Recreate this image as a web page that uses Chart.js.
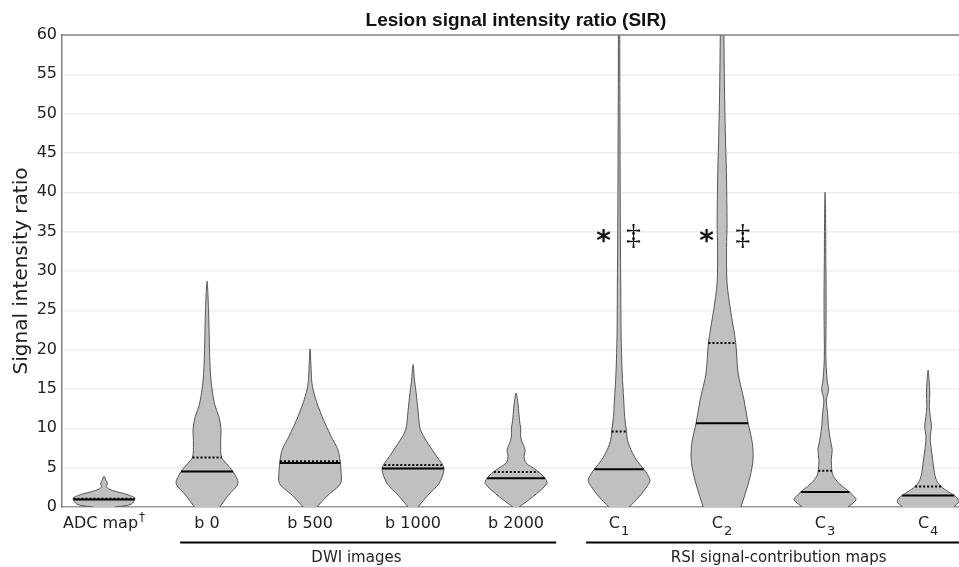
<!DOCTYPE html>
<html>
<head>
<meta charset="utf-8">
<script src="https://cdn.jsdelivr.net/npm/chart.js@4.4.1/dist/chart.umd.min.js"></script>
<style>
  html, body { margin: 0; padding: 0; background: #fff; }
</style>
</head>
<body>
<canvas id="myChart" width="959" height="567"></canvas>
<script>
//Categories and their little super/subscripts
const categories = ["ADC map", "b 0", "b 500", "b 1000", "b 2000", "C", "C", "C", "C"];
const superScripts = ["†", "", "", "", "", "", "", "", ""];
const subScripts = ["", "", "", "", "", "1", "2", "3", "4"];

//Violin outlines: y levels and relative density (1 = widest)
const adcLevels = [0, 0.34, 1.1, 1.6, 1.95, 2.3, 2.6, 3.0, 3.4, 3.9];
const adcDensity = [0.35, 0.87, 1.0, 0.74, 0.40, 0.15, 0.08, 0.11, 0.06, 0];

const b0Levels = [0, 1.5, 3.0, 4.5, 5.5, 6.3, 8, 10, 11.5, 13, 15, 17, 20, 25, 28.7];
const b0Density = [0.41, 0.69, 1.0, 0.84, 0.63, 0.47, 0.44, 0.45, 0.38, 0.25, 0.16, 0.11, 0.08, 0.05, 0];

const b500Levels = [0, 1.5, 3.0, 4.7, 6, 7.3, 9, 11.5, 14, 15.8, 18, 20.1];
const b500Density = [0.22, 0.58, 0.99, 1.0, 0.97, 0.90, 0.68, 0.39, 0.16, 0.06, 0.03, 0];

const b1000Levels = [0, 1.5, 3.0, 4.9, 6.4, 8.1, 9.8, 12.3, 14.5, 16, 18.1];
const b1000Density = [0.16, 0.48, 0.84, 1.0, 0.77, 0.48, 0.24, 0.16, 0.10, 0.05, 0];

const b2000Levels = [0, 1.3, 3.0, 3.7, 4.7, 5.6, 6.4, 7.3, 8.3, 9, 10, 11, 12.5, 13.5, 14.5];
const b2000Density = [0.10, 0.54, 1.0, 0.93, 0.65, 0.32, 0.26, 0.29, 0.19, 0.15, 0.15, 0.11, 0.08, 0.05, 0];

const c1Levels = [0, 1.3, 2.6, 3.4, 4.3, 4.8, 6.0, 7.3, 8.5, 9.6, 11.5, 13.6, 17, 22, 28, 35, 45, 55, 62];
const c1Density = [0.33, 0.65, 0.90, 1.0, 0.89, 0.80, 0.56, 0.38, 0.27, 0.24, 0.18, 0.15, 0.10, 0.065, 0.055, 0.042, 0.032, 0.023, 0.016];

const c2Levels = [0, 1.7, 3.9, 6.0, 8.1, 10.7, 13.6, 17, 20.9, 25.1, 28.5, 33, 36, 42.5, 47.6, 54, 60, 62];
const c2Density = [0.61, 0.75, 0.91, 1.0, 0.98, 0.84, 0.71, 0.52, 0.44, 0.27, 0.16, 0.145, 0.16, 0.14, 0.105, 0.075, 0.058, 0.048];

const c3Levels = [0, 0.9, 1.5, 2.2, 3.0, 3.9, 4.6, 6.0, 7.3, 8.5, 10.2, 11.9, 13.6, 14.9, 16, 18.3, 20, 24, 28, 32, 36, 40];
const c3Density = [0.74, 1.0, 0.90, 0.70, 0.45, 0.27, 0.22, 0.20, 0.23, 0.17, 0.11, 0.08, 0.04, 0.11, 0.07, 0.03, 0.023, 0.032, 0.032, 0.023, 0.019, 0];

const c4Levels = [0, 0.7, 1.3, 1.95, 2.6, 3.4, 4.7, 6.0, 7.7, 9.0, 10.2, 11.5, 12.8, 14.5, 16.2, 17.4];
const c4Density = [0.83, 1.0, 0.90, 0.65, 0.42, 0.27, 0.19, 0.15, 0.09, 0.07, 0.11, 0.07, 0.04, 0.055, 0.03, 0];

//Median (solid) and mean (dotted) per category
const medians = [0.95, 4.5, 5.6, 4.9, 3.65, 4.8, 10.65, 1.9, 1.45];
const means = [1.05, 6.3, 5.8, 5.35, 4.45, 9.6, 20.85, 4.6, 2.6];

const yTicks = [0, 5, 10, 15, 20, 25, 30, 35, 40, 45, 50, 55, 60];

//Groups under the axis
const groupNames = ["DWI images", "RSI signal-contribution maps"];
const groupFrom = [0.74, 4.68];
const groupTo = [4.39, 8.6];
const groupCenter = [2.45, 6.55];

//Significance marks
const markCategory = [5, 5, 6, 6];
const markText = ["*", "‡", "*", "‡"];
const markOffset = [-0.15, 0.14, -0.15, 0.2];
const markValue = 34.5;

const violinLevels = [adcLevels, b0Levels, b500Levels, b1000Levels, b2000Levels, c1Levels, c2Levels, c3Levels, c4Levels];
const violinDensity = [adcDensity, b0Density, b500Density, b1000Density, b2000Density, c1Density, c2Density, c3Density, c4Density];

const HALF = 0.3; // half width of the widest part, in category units

const densityAt = (lv, dn, y) => {
    for (let k = 0; k < lv.length - 1; k++) {
        if (y >= lv[k] && y <= lv[k + 1]) {
            const t = (y - lv[k]) / (lv[k + 1] - lv[k]);
            return dn[k] + t * (dn[k + 1] - dn[k]);
        }
    }
    return 0;
};

const outline = (i) => {
    const lv = violinLevels[i], dn = violinDensity[i];
    const pts = [];
    for (let k = 0; k < lv.length; k++) pts.push({x: i + HALF * dn[k], y: lv[k]});
    for (let k = lv.length - 1; k >= 0; k--) {
        if (k === lv.length - 1 && dn[k] === 0) continue;
        pts.push({x: i - HALF * dn[k], y: lv[k]});
    }
    return pts;
};

const datasets = [];
categories.forEach((c, i) => {
    const lv = violinLevels[i], dn = violinDensity[i];
    const wMed = HALF * densityAt(lv, dn, medians[i]);
    const wMean = HALF * densityAt(lv, dn, means[i]);
    datasets.push({
        data: [{x: i - wMed, y: medians[i]}, {x: i + wMed, y: medians[i]}],
        showLine: true, borderColor: "#000", borderWidth: 2, pointRadius: 0, fill: false, order: 0
    });
    datasets.push({
        data: [{x: i - wMean, y: means[i]}, {x: i + wMean, y: means[i]}],
        showLine: true, borderColor: "#000", borderWidth: 2, borderDash: [2, 2], pointRadius: 0, fill: false, order: 0
    });
    datasets.push({
        data: outline(i),
        showLine: true, fill: "shape", backgroundColor: "#c0c0c0", borderColor: "#555",
        borderWidth: 1, pointRadius: 0, tension: 0.3, order: 1
    });
});

const extras = {
    id: "extras",
    afterDraw(chart) {
        const ctx = chart.ctx;
        const xs = chart.scales.x, ys = chart.scales.y;
        const area = chart.chartArea;
        ctx.save();
        //top frame line
        ctx.strokeStyle = "#808080";
        ctx.lineWidth = 1.5;
        ctx.beginPath();
        ctx.moveTo(area.left, area.top);
        ctx.lineTo(area.right, area.top);
        ctx.stroke();

        //title
        ctx.fillStyle = "#111";
        ctx.font = 'bold 19px "Liberation Sans"';
        ctx.textAlign = "center";
        ctx.textBaseline = "alphabetic";
        ctx.fillText("Lesion signal intensity ratio (SIR)", 516, 26);

        //category labels
        ctx.fillStyle = "#222";
        ctx.textAlign = "left";
        categories.forEach((c, i) => {
            const main = '16px "DejaVu Sans"', small = '12px "DejaVu Sans"', sub = '13px "DejaVu Sans"';
            ctx.font = main;
            const w1 = ctx.measureText(c).width;
            let w2 = 0;
            if (superScripts[i]) { ctx.font = small; w2 = ctx.measureText(superScripts[i]).width + 1; }
            if (subScripts[i]) { ctx.font = sub; w2 = ctx.measureText(subScripts[i]).width + 1; }
            const x0 = xs.getPixelForValue(i) - (w1 + w2) / 2;
            ctx.font = main;
            ctx.fillText(c, x0, 528);
            if (superScripts[i]) { ctx.font = small; ctx.fillText(superScripts[i], x0 + w1 + 1, 521); }
            if (subScripts[i]) { ctx.font = sub; ctx.fillText(subScripts[i], x0 + w1 + 1, 535); }
        });

        //group lines and names
        ctx.strokeStyle = "#000";
        ctx.lineWidth = 2;
        ctx.textAlign = "center";
        ctx.font = '15px "DejaVu Sans"';
        groupNames.forEach((g, i) => {
            ctx.beginPath();
            ctx.moveTo(xs.getPixelForValue(groupFrom[i]), 542.5);
            ctx.lineTo(xs.getPixelForValue(groupTo[i]), 542.5);
            ctx.stroke();
            ctx.fillText(g, xs.getPixelForValue(groupCenter[i]), 562);
        });

        //significance marks, centred on their ink
        ctx.fillStyle = "#111";
        markText.forEach((t, i) => {
            ctx.font = t === "*" ? 'bold 28px "DejaVu Sans"' : '30px "Liberation Serif"';
            const m = ctx.measureText(t);
            const cy = ys.getPixelForValue(markValue);
            const base = cy + (m.actualBoundingBoxAscent - m.actualBoundingBoxDescent) / 2;
            ctx.fillText(t, xs.getPixelForValue(markCategory[i] + markOffset[i]), base);
        });
        ctx.restore();
    }
};

const config = {
    type: "scatter",
    data: {datasets: datasets},
    options: {
        responsive: false,
        animation: false,
        devicePixelRatio: 1,
        layout: {padding: {top: 35, left: 0, right: 0, bottom: 0}},
        plugins: {legend: {display: false}, tooltip: {enabled: false}, title: {display: false}},
        scales: {
            x: {
                type: "linear", min: -0.408, max: 8.30,
                ticks: {display: false},
                grid: {display: false},
                border: {display: true, color: "#999", width: 1.5},
                afterFit: (scale) => { scale.height = 60; }
            },
            y: {
                type: "linear", min: 0, max: 60,
                afterBuildTicks: (scale) => { scale.ticks = yTicks.map(v => ({value: v})); },
                ticks: {color: "#222", padding: 5, font: {family: "DejaVu Sans", size: 16}},
                grid: {
                    drawTicks: false,
                    color: (c) => (c.tick && (c.tick.value === 0 || c.tick.value === 60)) ? "rgba(0,0,0,0)" : "#ededed",
                    lineWidth: 1.5
                },
                border: {display: true, color: "#808080", width: 1.5},
                title: {display: true, text: "Signal intensity ratio", color: "#222",
                        font: {family: "DejaVu Sans", size: 20}, padding: {top: 10, bottom: 0}},
                afterFit: (scale) => { scale.width = 62; }
            }
        }
    },
    plugins: [extras]
};

const myChart = new Chart(document.getElementById("myChart"), config);
</script>
</body>
</html>
